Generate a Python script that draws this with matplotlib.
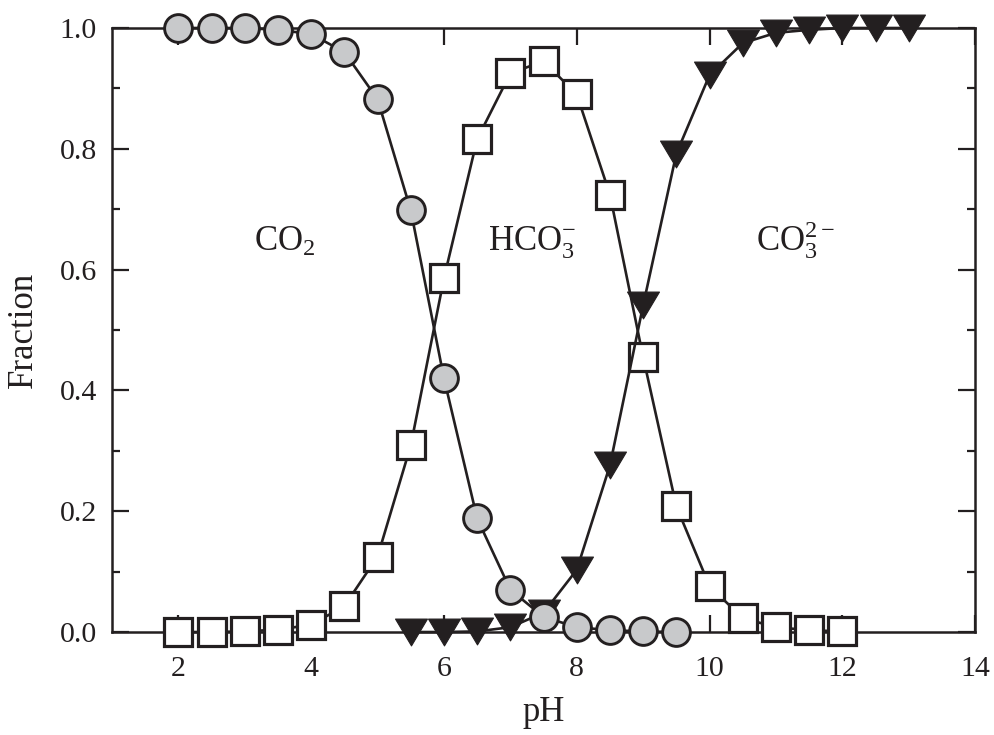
import numpy as np
import matplotlib.pyplot as plt
from matplotlib.path import Path
from matplotlib.ticker import MultipleLocator

plt.rcParams['font.family'] = ['Liberation Serif', 'DejaVu Serif']
plt.rcParams['mathtext.fontset'] = 'custom'
plt.rcParams['mathtext.rm'] = 'Liberation Serif'
plt.rcParams['mathtext.it'] = 'Liberation Serif:italic'

# CO2
ph_co2 = [2, 2.5, 3, 3.5, 4, 4.5, 5, 5.5, 6, 6.5, 7, 7.5, 8, 8.5, 9, 9.5]
frac_co2 = [1.0, 1.0, 1.0, 0.997, 0.99, 0.96, 0.882, 0.698, 0.42, 0.188,
            0.07, 0.025, 0.008, 0.003, 0.001, 0.0]

# HCO3-
ph_hco3 = [2, 2.5, 3, 3.5, 4, 4.5, 5, 5.5, 6, 6.5, 7, 7.5, 8, 8.5, 9, 9.5,
           10, 10.5, 11, 11.5, 12]
frac_hco3 = [0.0, 0.0, 0.001, 0.004, 0.012, 0.043, 0.125, 0.309, 0.586, 0.816,
             0.925, 0.945, 0.89, 0.724, 0.455, 0.208, 0.076, 0.023, 0.008,
             0.003, 0.001]

# CO3 2-
ph_co3 = [5.5, 6, 6.5, 7, 7.5, 8, 8.5, 9, 9.5, 10, 10.5, 11, 11.5, 12, 12.5, 13]
frac_co3 = [0.0, 0.0, 0.001, 0.008, 0.032, 0.103, 0.276, 0.541, 0.792, 0.922,
            0.975, 0.992, 0.997, 1.0, 1.0, 1.0]

species = [r'$\mathrm{CO_2}$', r'$\mathrm{HCO_3^{-}}$', r'$\mathrm{CO_3^{2-}}$']
label_ph = [3.6, 7.32, 11.3]

ink = '#231f20'

# wide, flat down-pointing triangle
tri = Path([(-1, 0.84), (1, 0.84), (0, -0.84), (-1, 0.84)],
           [Path.MOVETO, Path.LINETO, Path.LINETO, Path.CLOSEPOLY])

fig = plt.figure(figsize=(9.95, 7.35), dpi=100)
ax = fig.add_axes([0.1126, 0.1401, 0.8674, 0.8218])

ax.plot(ph_hco3, frac_hco3, color=ink, lw=1.9, marker='s', ms=19.5,
        mfc='white', mec=ink, mew=2.3, zorder=3, clip_on=False)
ax.plot(ph_co3, frac_co3, color=ink, lw=1.9, marker=tri, ms=23,
        mfc=ink, mec=ink, mew=0.8, zorder=4, clip_on=False)
ax.plot(ph_co2, frac_co2, color=ink, lw=1.9, marker='o', ms=20,
        mfc='#c8c9cb', mec=ink, mew=2.1, zorder=5, clip_on=False)

for s, x in zip(species, label_ph):
    ax.text(x, 0.631, s, fontsize=25, color=ink, ha='center', va='baseline')

ax.set_xlim(1, 14)
ax.set_ylim(0, 1)
ax.set_xticks([2, 4, 6, 8, 10, 12, 14])
ax.set_yticks([0.0, 0.2, 0.4, 0.6, 0.8, 1.0])
ax.set_yticklabels(['0.0', '0.2', '0.4', '0.6', '0.8', '1.0'])
ax.yaxis.set_minor_locator(MultipleLocator(0.1))
ax.tick_params(which='major', direction='in', length=12, width=1.6,
               colors=ink, labelsize=21.5, top=True, right=True, pad=11)
ax.tick_params(axis='x', which='major', pad=17)
ax.tick_params(which='minor', direction='in', length=6, width=1.6,
               colors=ink, left=True, right=True)
for s in ax.spines.values():
    s.set_linewidth(1.8)
    s.set_color(ink)

ax.set_xlabel('pH', fontsize=25, color=ink, labelpad=10)
ax.set_ylabel('Fraction', fontsize=25, color=ink, labelpad=14)

fig.savefig('out.png', dpi=100)
